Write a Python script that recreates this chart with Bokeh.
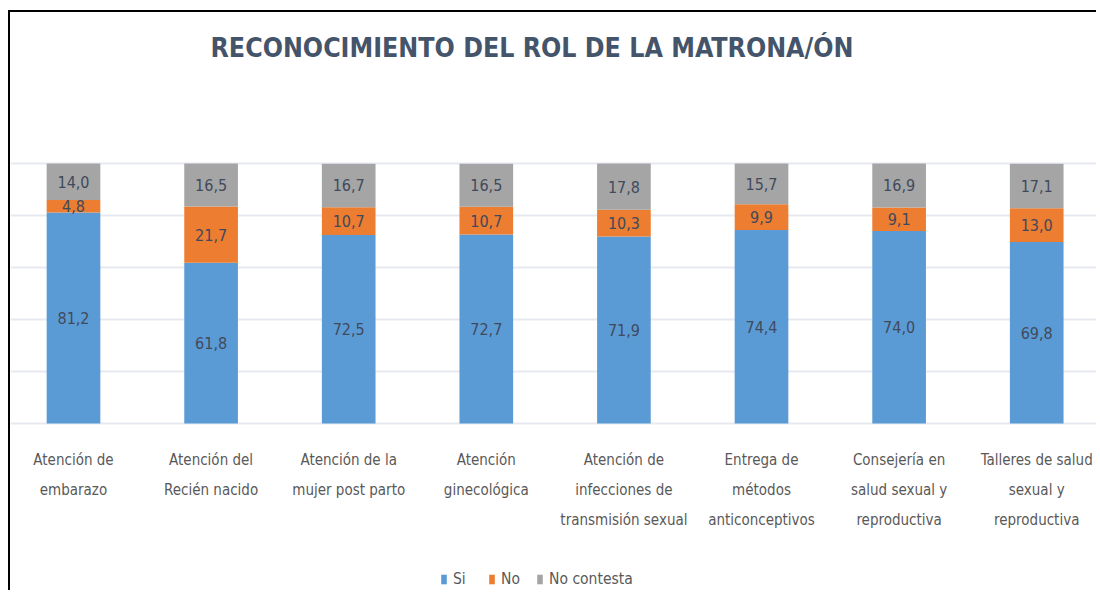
from bokeh.plotting import figure
from bokeh.models import ColumnDataSource, Range1d, FixedTicker, Legend, LegendItem, Title
from bokeh.core.properties import value
from bokeh.embed import file_html
from bokeh.resources import INLINE

categories = [
    "Atención de\nembarazo",
    "Atención del\nRecién nacido",
    "Atención de la\nmujer post parto",
    "Atención\nginecológica",
    "Atención de\ninfecciones de\ntransmisión sexual",
    "Entrega de\nmétodos\nanticonceptivos",
    "Consejería en\nsalud sexual y\nreproductiva",
    "Talleres de salud\nsexual y\nreproductiva",
]
si = [81.2, 61.8, 72.5, 72.7, 71.9, 74.4, 74.0, 69.8]
no = [4.8, 21.7, 10.7, 10.7, 10.3, 9.9, 9.1, 13.0]
no_contesta = [14.0, 16.5, 16.7, 16.5, 17.8, 15.7, 16.9, 17.1]
series_names = ["Si", "No", "No contesta"]
colors = ["#5B9BD5", "#ED7D31", "#A5A5A5"]
grid_ticks = [0, 20, 40, 60, 80, 100, 120]
title_text = "RECONOCIMIENTO DEL ROL DE LA MATRONA/ÓN"

FONT = "DejaVu Sans Condensed"

xs = list(range(1, len(categories) + 1))
src = ColumnDataSource(dict(x=xs, si=si, no=no, nc=no_contesta))

p = figure(
    width=1088, height=580,
    x_range=Range1d(0.5422, 8.449), y_range=Range1d(-65, 120),
    output_backend="svg", toolbar_location=None,
    min_border_left=0, min_border_right=0, min_border_top=99, min_border_bottom=0,
    styles={"border-left": "2px solid black", "border-top": "2px solid black",
            "margin-left": "8px", "margin-top": "10px"},
)
p.outline_line_color = None
p.background_fill_color = "white"
p.border_fill_color = "white"

# blank spacer between the title and the plot area
spacer = Title(text=" ", text_font=FONT, text_font_size="26.5px", standoff=16)
p.add_layout(spacer, "above")
t = Title(text=title_text, align="left", offset=200, text_font=FONT, text_font_size="26.5px",
          text_font_style="bold", text_color="#44546A", standoff=0)
p.add_layout(t, "above")

p.xaxis.visible = False
p.yaxis.visible = False
p.xgrid.visible = False
p.ygrid.ticker = FixedTicker(ticks=grid_ticks)
p.ygrid.grid_line_color = "#E6EAF0"
p.ygrid.grid_line_width = 2

renderers = p.vbar_stack(["si", "no", "nc"], x="x", width=0.39, color=colors, source=src,
                         line_color=None)

# data labels
lx, ly, lt = [], [], []
for i in range(len(categories)):
    base = 0.0
    for v in (si[i], no[i], no_contesta[i]):
        lx.append(xs[i])
        ly.append(base + v / 2)
        lt.append(f"{v:.1f}".replace(".", ","))
        base += v
p.text(x=lx, y=ly, text=lt, text_align="center", text_baseline="middle",
       text_font=value(FONT), text_font_size="16px", text_color="#404A5C")

# category labels
p.text(x=xs, y=[-10.4] * len(xs), text=categories, text_align="center", text_baseline="top",
       text_font=value(FONT), text_font_size="15px", text_color="#595959",
       text_line_height=1.67)

legend = Legend(
    items=[LegendItem(label=n, renderers=[r]) for n, r in zip(series_names, renderers)],
    orientation="horizontal", location=(430, 4),
    label_text_font=FONT, label_text_font_size="15.5px", label_text_color="#595959",
    glyph_width=7, glyph_height=12, spacing=15, label_standoff=6,
    border_line_color=None, background_fill_alpha=0, margin=0, padding=0,
)
p.add_layout(legend, "center")

open("out.html", "w").write(file_html(p, INLINE))
